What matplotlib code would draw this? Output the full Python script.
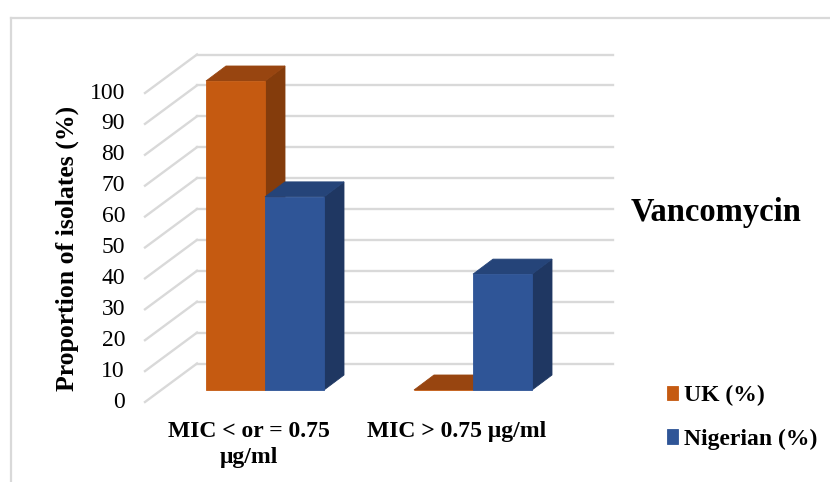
import matplotlib
matplotlib.use("Agg")
import matplotlib.pyplot as plt
from matplotlib.patches import Polygon
from matplotlib.lines import Line2D
import numpy as np

plt.rcParams["font.family"] = ["Liberation Serif", "DejaVu Serif"]

# ---- data -------------------------------------------------------------
categories = ["MIC < or = 0.75\nμg/ml", "MIC > 0.75 μg/ml"]
uk_pct = [100, 0]
nigerian_pct = [62.5, 37.5]
y_ticks = list(range(0, 101, 10))
series_names = ["UK (%)", "Nigerian (%)"]
title_text = "Vancomycin"

# ---- styling ----------------------------------------------------------
W, H, DPI = 830, 482, 100
uk_front, uk_top, uk_side = "#C55A11", "#984510", "#843C0C"
ng_front, ng_top, ng_side = "#2F5597", "#254479", "#1F3762"
grid_col = "#D9D9D9"

fig = plt.figure(figsize=(W / DPI, H / DPI), dpi=DPI)

# axes box in pixels, data plane = front face of the bars
L, R, T, B = 100, 650, 30, 420
X_PER_CAT = 208.0          # pixels between category centres
X0_PIX = 265.0             # pixel x of first category centre
Y0_PIX = 390.0             # pixel y of value 0 on the bar front plane
PX_PER_VAL = 3.09          # pixels per percentage point

ax = fig.add_axes([L / W, 1 - B / H, (R - L) / W, (B - T) / H])
ax.set_xlim((L - X0_PIX) / X_PER_CAT, (R - X0_PIX) / X_PER_CAT)
ax.set_ylim((Y0_PIX - B) / PX_PER_VAL, (Y0_PIX - T) / PX_PER_VAL)
ax.axis("off")

def dx(px):
    return px / X_PER_CAT

def dy(px):
    return -px / PX_PER_VAL

# oblique depth offsets (pixels, screen direction)
bar_depth = (20.0, -15.0)        # thickness of each bar
wall_off = (35.6, -26.5)         # bar front plane -> back wall
front_off = (-16.4, 12.0)        # bar front plane -> front edge of floor
wall_left_px, wall_right_px = 197.0, 613.0

# ---- back wall gridlines + side-wall diagonals -------------------------
xs = dx(wall_left_px - X0_PIX)
xe = dx(wall_right_px - X0_PIX)
for v in y_ticks:
    yb = v + dy(wall_off[1])
    yf = v + dy(front_off[1])
    xf = xs - dx(wall_off[0] - front_off[0])
    ax.add_line(Line2D([xs, xe], [yb, yb], color=grid_col, lw=1.7, zorder=1))
    ax.add_line(Line2D([xf, xs], [yf, yb], color=grid_col, lw=1.7, zorder=1))
    ax.text(xf - dx(20), yf, str(v), ha="right", va="center", fontsize=17,
            color="#000000")

# ---- 3-D bars ----------------------------------------------------------
x = np.arange(len(categories))
bw = 59.0 / X_PER_CAT
ddx, ddy = dx(bar_depth[0]), dy(bar_depth[1])

def draw_bar(xl, val, front, top, side, label, z):
    xr = xl + bw
    side_poly = Polygon([(xr, 0), (xr, val), (xr + ddx, val + ddy), (xr + ddx, ddy)],
                        closed=True, facecolor=side, edgecolor=side, lw=0.6, zorder=z)
    top_poly = Polygon([(xl, val), (xr, val), (xr + ddx, val + ddy), (xl + ddx, val + ddy)],
                       closed=True, facecolor=top, edgecolor=top, lw=0.6, zorder=z)
    ax.add_patch(side_poly)
    ax.add_patch(top_poly)
    return ax.bar(xl, val, width=bw, align="edge", color=front, edgecolor=front,
                  lw=0.6, zorder=z + 0.5, label=label)

handles = []
for i in range(len(categories)):
    h1 = draw_bar(x[i] - bw, uk_pct[i], uk_front, uk_top, uk_side,
                  series_names[0] if i == 0 else None, 3 + 2 * i)
    h2 = draw_bar(x[i], nigerian_pct[i], ng_front, ng_top, ng_side,
                  series_names[1] if i == 0 else None, 4 + 2 * i)
    if i == 0:
        handles = [h1, h2]

# ---- category labels ---------------------------------------------------
for i, lab in enumerate(categories):
    ax.text(x[i] + dx(front_off[0]), dy(421 - Y0_PIX), lab, ha="center", va="top",
            fontsize=17, fontweight="bold", linespacing=1.3)

# ---- axis title, chart title, legend -----------------------------------
fig.text(67 / W, 1 - 248 / H, "Proportion of isolates (%)", rotation=90,
         ha="center", va="center", fontsize=18.5, fontweight="bold")
fig.text(716 / W, 1 - 212 / H, title_text, ha="center", va="center",
         fontsize=23.5, fontweight="bold")

leg = fig.legend(handles=handles, labels=series_names, loc="upper left",
                 bbox_to_anchor=(667 / W, 1 - 385 / H), frameon=False,
                 prop={"size": 17, "weight": "bold"}, handlelength=0.48,
                 handleheight=0.55, handletextpad=0.22, labelspacing=0.95,
                 borderpad=0, borderaxespad=0)

# ---- outer chart frame (top and left edges) ----------------------------
fig.add_artist(Line2D([10.5 / W, 1.0], [1 - 18 / H, 1 - 18 / H],
                      transform=fig.transFigure, color=grid_col, lw=1.6))
fig.add_artist(Line2D([10.5 / W, 10.5 / W], [0.0, 1 - 18 / H],
                      transform=fig.transFigure, color=grid_col, lw=1.6))

fig.savefig("out.png", dpi=DPI)
